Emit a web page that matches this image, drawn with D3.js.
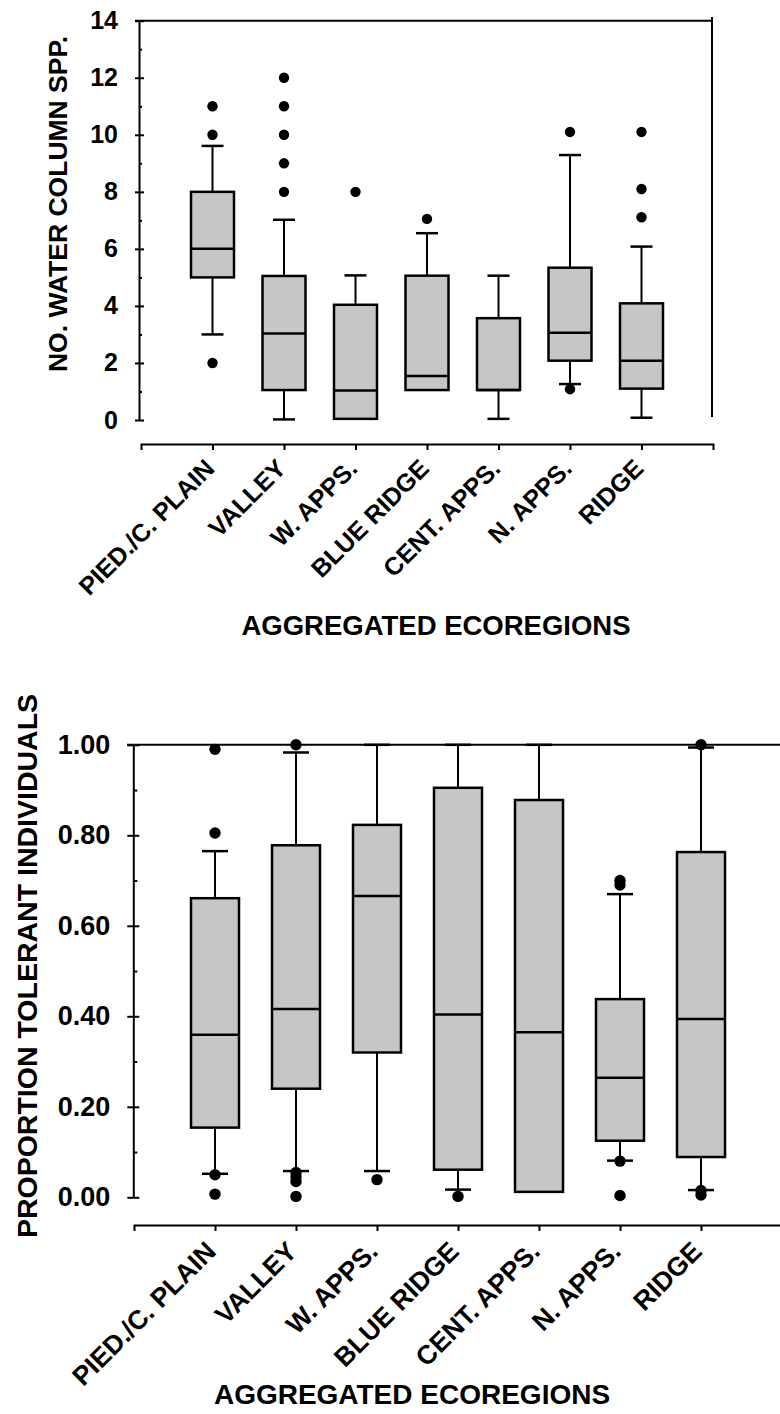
<!DOCTYPE html>
<html>
<head>
<meta charset="utf-8">
<script src="https://cdn.jsdelivr.net/npm/d3@7"></script>
<style>
  html, body { margin: 0; padding: 0; background: #fff; }
  svg { display: block; }
  text { font-family: "Liberation Sans", Arial, Helvetica, sans-serif; font-weight: bold; fill: #000; }
</style>
</head>
<body>
<svg id="chart" width="780" height="1414"></svg>
<script>
// Ecoregion groups shared by both panels
const categories = ["PIED./C. PLAIN", "VALLEY", "W. APPS.", "BLUE RIDGE", "CENT. APPS.", "N. APPS.", "RIDGE"];

// Panel 1: number of water column species (null = no whisker drawn)
const sppWhiskerLow  = [3, 0.02, null, null, 0.04, 1.26, 0.08];
const sppQ1          = [5, 1.05, 0.04, 1.05, 1.05, 2.08, 1.1];
const sppMedian      = [6, 3.03, 1.03, 1.54, 1.05, 3.06, 2.08];
const sppQ3          = [8, 5.05, 4.04, 5.06, 3.57, 5.34, 4.09];
const sppWhiskerHigh = [9.61, 7.02, 5.07, 6.55, 5.06, 9.29, 6.08];
const sppOutliers    = [[11, 10, 2], [12, 11, 10, 9, 8], [8], [7.05], [], [10.1, 1.08], [10.1, 8.1, 7.11]];
const sppTicks       = [0, 2, 4, 6, 8, 10, 12, 14];
const sppMinorTicks  = [1, 3, 5, 7, 9, 11, 13];

// Panel 2: proportion of tolerant individuals
const tolWhiskerLow  = [0.052, 0.058, 0.058, 0.017, null, 0.081, 0.016];
const tolQ1          = [0.154, 0.24, 0.32, 0.061, 0.012, 0.125, 0.089];
const tolMedian      = [0.359, 0.416, 0.666, 0.404, 0.365, 0.264, 0.394];
const tolQ3          = [0.661, 0.778, 0.823, 0.905, 0.878, 0.438, 0.763];
const tolWhiskerHigh = [0.765, 0.983, 1.0, 1.0, 1.0, 0.67, 0.994];
const tolOutliers    = [[0.99, 0.805, 0.05, 0.007], [1.0, 0.055, 0.045, 0.035, 0.002], [0.039], [0.002], [], [0.70, 0.69, 0.08, 0.004], [1.0, 0.015, 0.005]];
const tolTicks       = [0, 0.2, 0.4, 0.6, 0.8, 1.0];
const tolMinorTicks  = [0.1, 0.3, 0.5, 0.7, 0.9];

const xTitle = "AGGREGATED ECOREGIONS";

const svg = d3.select("#chart");

function drawPanel(p) {
  const g = svg.append("g");
  const x = d3.scalePoint().domain(categories).range(p.xRange).padding(1);
  const y = d3.scaleLinear().domain(p.yDomain).range(p.yRange);

  // frame lines
  g.append("line").attr("x1", p.topLineX[0]).attr("x2", p.topLineX[1])
    .attr("y1", y(p.yDomain[1])).attr("y2", y(p.yDomain[1]))
    .attr("stroke", "#000").attr("stroke-width", 2);
  if (p.rightLine) {
    g.append("line").attr("x1", p.rightLine.x).attr("x2", p.rightLine.x)
      .attr("y1", p.rightLine.y0).attr("y2", p.rightLine.y1)
      .attr("stroke", "#000").attr("stroke-width", 2);
  }

  // y axis: labels + left half of major ticks
  const yAxisL = g.append("g").attr("transform", `translate(${p.yAxisX},0)`)
    .call(d3.axisLeft(y).tickValues(p.ticks).tickFormat(p.fmt).tickSize(p.tickL).tickSizeOuter(0).tickPadding(p.labelPad));
  yAxisL.selectAll("text").style("font-size", p.tickFont + "px");
  // right half of major ticks
  g.append("g").attr("transform", `translate(${p.yAxisX},0)`)
    .call(d3.axisRight(y).tickValues(p.ticks).tickFormat("").tickSize(p.tickR).tickSizeOuter(0))
    .select(".domain").remove();
  // minor ticks
  g.append("g").attr("transform", `translate(${p.yAxisX},0)`)
    .call(d3.axisRight(y).tickValues(p.minor).tickFormat("").tickSize(p.minorSize).tickSizeOuter(0))
    .select(".domain").remove();
  g.selectAll(".tick line, .domain").attr("stroke", "#000").attr("stroke-width", 2);

  // x axis
  const xa = g.append("g").attr("transform", `translate(0,${p.xAxisY})`)
    .call(d3.axisBottom(x).tickSize(6).tickSizeOuter(6));
  xa.selectAll(".tick line, .domain").attr("stroke", "#000").attr("stroke-width", 2);
  xa.selectAll("text")
    .attr("y", null).attr("dy", null)
    .attr("text-anchor", "end")
    .attr("transform", `translate(${p.labelDx},${p.labelDy}) rotate(-45)`)
    .style("font-size", p.catFont + "px");

  // axis titles
  g.append("text")
    .attr("transform", `translate(${p.yTitle.x},${p.yTitle.y}) rotate(-90)`)
    .attr("text-anchor", "middle").attr("dominant-baseline", "central")
    .style("font-size", p.yTitle.size + "px")
    .text(p.yTitle.text);
  g.append("text")
    .attr("x", p.xTitlePos.x).attr("y", p.xTitlePos.y)
    .attr("text-anchor", "middle").attr("dominant-baseline", "central")
    .style("font-size", p.xTitlePos.size + "px")
    .text(xTitle);

  // boxes
  const rows = categories.map((c, i) => ({
    c, lo: p.lo[i], q1: p.q1[i], med: p.med[i], q3: p.q3[i], hi: p.hi[i], out: p.out[i]
  }));
  const bw = p.boxW, cw = p.capW;
  const box = g.selectAll(".box").data(rows).join("g").attr("class", "box");

  // whiskers
  box.append("line").attr("x1", d => x(d.c)).attr("x2", d => x(d.c))
    .attr("y1", d => y(d.q3)).attr("y2", d => y(d.hi))
    .attr("stroke", "#000").attr("stroke-width", 2);
  box.append("line").attr("x1", d => x(d.c) - cw / 2).attr("x2", d => x(d.c) + cw / 2)
    .attr("y1", d => y(d.hi)).attr("y2", d => y(d.hi))
    .attr("stroke", "#000").attr("stroke-width", 2.5);
  const lower = box.filter(d => d.lo !== null);
  lower.append("line").attr("x1", d => x(d.c)).attr("x2", d => x(d.c))
    .attr("y1", d => y(d.q1)).attr("y2", d => y(d.lo))
    .attr("stroke", "#000").attr("stroke-width", 2);
  lower.append("line").attr("x1", d => x(d.c) - cw / 2).attr("x2", d => x(d.c) + cw / 2)
    .attr("y1", d => y(d.lo)).attr("y2", d => y(d.lo))
    .attr("stroke", "#000").attr("stroke-width", 2.5);

  // interquartile box
  box.append("rect")
    .attr("x", d => x(d.c) - bw / 2).attr("width", bw)
    .attr("y", d => y(d.q3)).attr("height", d => y(d.q1) - y(d.q3))
    .attr("fill", "#c6c6c6").attr("stroke", "#000").attr("stroke-width", 2.5);
  // median
  box.append("line").attr("x1", d => x(d.c) - bw / 2).attr("x2", d => x(d.c) + bw / 2)
    .attr("y1", d => y(d.med)).attr("y2", d => y(d.med))
    .attr("stroke", "#000").attr("stroke-width", 2.5);

  // outliers
  box.selectAll("circle").data(d => d.out.map(v => ({ c: d.c, v }))).join("circle")
    .attr("cx", d => x(d.c)).attr("cy", d => y(d.v)).attr("r", p.dotR).attr("fill", "#000");
}

drawPanel({
  xRange: [141, 713], yDomain: [0, 14], yRange: [420, 20.7],
  yAxisX: 139, xAxisY: 444,
  topLineX: [135, 712], rightLine: { x: 712, y0: 17, y1: 417 },
  ticks: sppTicks, minor: sppMinorTicks, fmt: d3.format("d"),
  tickL: 4, tickR: 5, minorSize: 3, labelPad: 17, tickFont: 25,
  labelDx: 3, labelDy: 26, catFont: 25,
  yTitle: { x: 58, y: 204, size: 26.5, text: "NO. WATER COLUMN SPP." },
  xTitlePos: { x: 436, y: 625, size: 27.5 },
  lo: sppWhiskerLow, q1: sppQ1, med: sppMedian, q3: sppQ3, hi: sppWhiskerHigh, out: sppOutliers,
  boxW: 43, capW: 22, dotR: 5.2
});

drawPanel({
  xRange: [134, 782], yDomain: [0, 1], yRange: [1197.3, 744.8],
  yAxisX: 133.3, xAxisY: 1225,
  topLineX: [127, 780], rightLine: null,
  ticks: tolTicks, minor: tolMinorTicks, fmt: d3.format(".2f"),
  tickL: 6, tickR: 6, minorSize: 4, labelPad: 17, tickFont: 27,
  labelDx: 2, labelDy: 28, catFont: 26.5,
  yTitle: { x: 27, y: 966, size: 28.5, text: "PROPORTION TOLERANT INDIVIDUALS" },
  xTitlePos: { x: 412, y: 1394, size: 28 },
  lo: tolWhiskerLow, q1: tolQ1, med: tolMedian, q3: tolQ3, hi: tolWhiskerHigh, out: tolOutliers,
  boxW: 48, capW: 26, dotR: 5.7
});
</script>
</body>
</html>
